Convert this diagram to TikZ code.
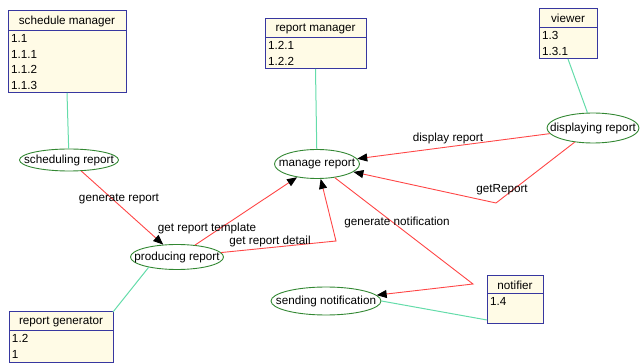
\documentclass[tikz,border=0pt]{standalone}
\usepackage{fontspec}
\setmainfont{Liberation Sans}
\usetikzlibrary{shapes.geometric,arrows.meta}
\definecolor{boxfill}{RGB}{255,251,230}
\definecolor{boxline}{RGB}{55,55,160}
\definecolor{assoc}{RGB}{100,220,170}
\definecolor{ucline}{RGB}{50,135,50}
\definecolor{flow}{RGB}{255,70,70}
\newcommand\dfont{\fontsize{11.7}{15.6}\selectfont}
\newcommand\ctext[1]{\makebox[0pt]{#1}}
\tikzset{
  hdr/.style={draw=boxline, fill=boxfill, line width=1pt, inner sep=0pt, outer sep=0pt, anchor=north west},
  bdy/.style={draw=boxline, fill=boxfill, line width=1pt, inner xsep=3pt, inner ysep=0pt, outer sep=0pt, anchor=north west, align=left},
  uc/.style={ellipse, draw=ucline, line width=0.9pt, inner sep=0pt},
  flowarrow/.style={draw=flow, line width=0.9pt, -{Triangle[length=10pt,width=8pt,fill=black,color=black]}},
  assocline/.style={draw=assoc, line width=1pt},
  lbl/.style={inner sep=0pt}
}
\begin{document}
\begin{tikzpicture}[x=1pt,y=-1pt,font=\dfont]
\useasboundingbox (0,0) rectangle (640,363);
% class boxes
\node[hdr, minimum width=118pt, minimum height=20pt] (smh) at (8,11) {schedule manager};
\node[bdy, text width=112pt, minimum height=62pt] (smb) at (smh.south west) {1.1\\1.1.1\\1.1.2\\1.1.3};
\node[hdr, minimum width=101pt, minimum height=19pt] (rmh) at (265,19) {report manager};
\node[bdy, text width=95pt, minimum height=31pt] (rmb) at (rmh.south west) {1.2.1\\1.2.2};
\node[hdr, minimum width=58pt, minimum height=19pt] (vwh) at (539,9) {viewer};
\node[bdy, text width=52pt, minimum height=31pt] (vwb) at (vwh.south west) {1.3\\1.3.1};
\node[hdr, minimum width=56pt, minimum height=18pt] (nth) at (487,276) {notifier};
\node[bdy, text width=50pt, minimum height=30pt] (ntb) at (nth.south west) {1.4\\\mbox{}};
\node[hdr, minimum width=104pt, minimum height=19pt] (rgh) at (9,312) {report generator};
\node[bdy, text width=98pt, minimum height=31pt] (rgb) at (rgh.south west) {1.2\\1};
% use cases
\node[uc, minimum width=99pt, minimum height=22pt] (sr) at (69,160) {\ctext{scheduling report}};
\node[uc, minimum width=85pt, minimum height=29pt] (mr) at (317,164) {\ctext{manage report}};
\node[uc, minimum width=92pt, minimum height=30pt] (dr) at (593,128) {\ctext{displaying report}};
\node[uc, minimum width=93pt, minimum height=25pt] (pr) at (177,257) {\ctext{producing report}};
\node[uc, minimum width=110pt, minimum height=28pt] (sn) at (326,301) {\ctext{sending notification}};
% bend points
\coordinate (c1) at (336,241);
\coordinate (c2) at (496,203);
\coordinate (c3) at (473,284);
% associations
\draw[assocline] (smb.south) -- (sr);
\draw[assocline] (rmb.south) -- (mr);
\draw[assocline] (vwb.south) -- (dr);
\draw[assocline] (rgh.north east) -- (pr.200);
\draw[assocline] (sn.east) -- ([yshift=4pt]ntb.south west);
% flows
\draw[flowarrow] (sr) -- (pr);
\draw[flowarrow] (pr) -- (mr);
\draw[flowarrow] (pr) -- (c1) -- (mr);
\draw[flowarrow] (dr) -- (mr);
\draw[flowarrow] (dr) -- (c2) -- (mr);
\draw[flowarrow] (mr) -- (c3) -- (sn);
% labels
\node[lbl] (l1) at (119,199) {generate report};
\node[lbl] (l2) at (207,228.5) {get report template};
\node[lbl] (l3) at (270,241.5) {get report detail};
\node[lbl] (l4) at (448,138) {display report};
\node[lbl] (l5) at (502,190) {getReport};
\node[lbl] (l6) at (397,222) {generate notification};
\end{tikzpicture}
\end{document}
